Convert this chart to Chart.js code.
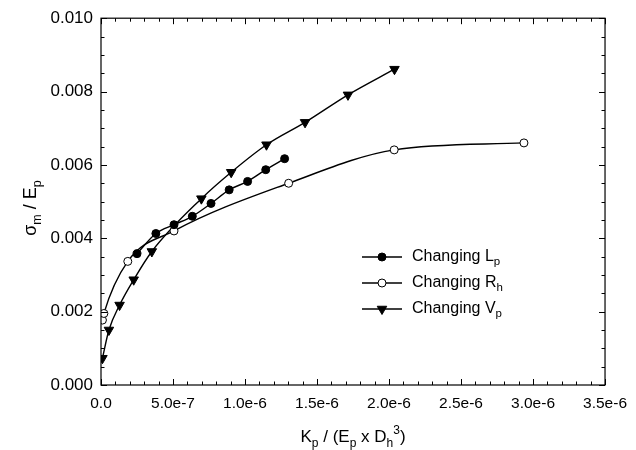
<!DOCTYPE html>
<html><head><meta charset="utf-8">
<script src="https://cdn.jsdelivr.net/npm/chart.js@4"></script>
<style>html,body{margin:0;padding:0;background:#fff}#wrap{width:636px;height:450px;position:relative}</style>
</head><body><div id="wrap"><canvas id="c"></canvas></div>
<script>
// ---- data ----
const lpX = [2.50e-7, 3.81e-7, 5.07e-7, 6.34e-7, 7.64e-7, 8.90e-7, 1.018e-6, 1.144e-6, 1.275e-6];
const lpY = [0.00358, 0.00413, 0.00437, 0.00460, 0.00495, 0.00532, 0.00555, 0.00587, 0.00617];
const rhX = [0.1e-7, 0.2e-7, 1.86e-7, 5.07e-7, 1.303e-6, 2.036e-6, 2.937e-6];
const rhY = [0.00177, 0.00195, 0.00337, 0.00420, 0.00550, 0.00641, 0.00660];
const vpX = [0.1e-7, 0.55e-7, 1.29e-7, 2.27e-7, 3.53e-7, 6.97e-7, 9.04e-7, 1.149e-6, 1.417e-6, 1.715e-6, 2.038e-6];
const vpY = [0.00073, 0.00150, 0.00218, 0.00287, 0.00364, 0.00508, 0.00580, 0.00655, 0.00716, 0.00791, 0.00861];
const seriesNames = ['Changing L', 'Changing R', 'Changing V'];
const seriesSubs = ['p', 'h', 'p'];
const xTickVals = [0, 5e-7, 1e-6, 1.5e-6, 2e-6, 2.5e-6, 3e-6, 3.5e-6];
const xTickLabels = ['0.0', '5.0e-7', '1.0e-6', '1.5e-6', '2.0e-6', '2.5e-6', '3.0e-6', '3.5e-6'];
const yTickVals = [0, 0.002, 0.004, 0.006, 0.008, 0.010];
const yTickLabels = ['0.000', '0.002', '0.004', '0.006', '0.008', '0.010'];

const FONT = "'Liberation Sans', Arial, Helvetica, sans-serif";
function pts(xs, ys) { return xs.map((x, i) => ({ x: x, y: ys[i] })); }
const base = { showLine: true, borderColor: '#000', borderWidth: 1.4, cubicInterpolationMode: 'monotone',
  pointBorderColor: '#000', pointBorderWidth: 1, fill: false };
const markers = [
  { pointStyle: 'circle', pointRadius: 4, pointBackgroundColor: '#000', pointRotation: 0 },
  { pointStyle: 'circle', pointRadius: 4, pointBackgroundColor: '#fff', pointRotation: 0 },
  { pointStyle: 'triangle', pointRadius: 5.5, pointBackgroundColor: '#000', pointRotation: 180 }
];

function drawMarker(ctx, m, x, y) {
  ctx.save();
  ctx.lineWidth = 1; ctx.strokeStyle = '#000'; ctx.fillStyle = m.pointBackgroundColor;
  ctx.beginPath();
  if (m.pointStyle === 'circle') {
    ctx.arc(x, y, m.pointRadius, 0, Math.PI * 2);
  } else {
    const r = m.pointRadius;
    ctx.moveTo(x, y + r);
    ctx.lineTo(x - r * Math.sin(Math.PI / 3), y - r / 2);
    ctx.lineTo(x + r * Math.sin(Math.PI / 3), y - r / 2);
    ctx.closePath();
  }
  ctx.fill(); ctx.stroke();
  ctx.restore();
}

function partsWidth(ctx, parts, size, small) {
  let w = 0;
  parts.forEach(p => { ctx.font = (p[1] === 'n' ? size : small) + 'px ' + FONT; w += ctx.measureText(p[0]).width; });
  return w;
}
function drawParts(ctx, parts, x, y, size, small) {
  parts.forEach(p => {
    ctx.font = (p[1] === 'n' ? size : small) + 'px ' + FONT;
    let dy = 0;
    if (p[1] === 'sub') dy = size * 0.28;
    if (p[1] === 'sup') dy = -size * 0.45;
    ctx.fillText(p[0], x, y + dy);
    x += ctx.measureText(p[0]).width;
  });
}

const decor = {
  id: 'decor',
  afterDraw(chart) {
    const ctx = chart.ctx, a = chart.chartArea;
    const xs = chart.scales.x, ys = chart.scales.y;
    ctx.save();
    ctx.strokeStyle = '#000'; ctx.lineWidth = 1.2;
    ctx.strokeRect(a.left, a.top, a.right - a.left, a.bottom - a.top);
    ctx.lineWidth = 1;
    ctx.beginPath();
    for (let i = 0; i <= 35; i++) {
      const v = i * 1e-7, px = Math.round(xs.getPixelForValue(v)) + 0.5;
      const L = (i % 5 === 0) ? 6 : 3.5;
      ctx.moveTo(px, a.bottom); ctx.lineTo(px, a.bottom - L);
      ctx.moveTo(px, a.top); ctx.lineTo(px, a.top + L);
    }
    for (let i = 0; i <= 20; i++) {
      const v = i * 0.0005, py = Math.round(ys.getPixelForValue(v)) + 0.5;
      const L = (i % 4 === 0) ? 6 : 3.5;
      ctx.moveTo(a.left, py); ctx.lineTo(a.left + L, py);
      ctx.moveTo(a.right, py); ctx.lineTo(a.right - L, py);
    }
    ctx.stroke();

    // legend
    const legY = [257, 283, 309];
    ctx.fillStyle = '#000'; ctx.textBaseline = 'middle'; ctx.textAlign = 'left';
    for (let i = 0; i < 3; i++) {
      ctx.lineWidth = 1.4;
      ctx.beginPath(); ctx.moveTo(362, legY[i]); ctx.lineTo(402, legY[i]); ctx.stroke();
      drawMarker(ctx, markers[i], 382, legY[i]);
      ctx.fillStyle = '#000';
      drawParts(ctx, [[seriesNames[i], 'n'], [seriesSubs[i], 'sub']], 412, legY[i], 16, 11.5);
    }

    // x title
    ctx.textBaseline = 'alphabetic';
    const xt = [['K', 'n'], ['p', 'sub'], [' / (E', 'n'], ['p', 'sub'], [' x D', 'n'], ['h', 'sub'], ['3', 'sup'], [')', 'n']];
    const xw = partsWidth(ctx, xt, 17, 12);
    drawParts(ctx, xt, (a.left + a.right) / 2 - xw / 2, 442, 17, 12);

    // y title
    const yt = [['\u03c3', 'n'], ['m', 'sub'], [' / E', 'n'], ['p', 'sub']];
    const yw = partsWidth(ctx, yt, 18, 12.5);
    ctx.translate(36, 208);
    ctx.rotate(-Math.PI / 2);
    drawParts(ctx, yt, -yw / 2, 0, 18, 12.5);
    ctx.restore();
  }
};

new Chart(document.getElementById('c'), {
  type: 'scatter',
  data: {
    datasets: [
      Object.assign({}, base, markers[0], { label: seriesNames[0], data: pts(lpX, lpY) }),
      Object.assign({}, base, markers[1], { label: seriesNames[1], data: pts(rhX, rhY) }),
      Object.assign({}, base, markers[2], { label: seriesNames[2], data: pts(vpX, vpY) })
    ]
  },
  options: {
    responsive: true, maintainAspectRatio: false, animation: false,
    layout: { padding: { left: 0, top: 17, right: 26, bottom: 0 } },
    plugins: { legend: { display: false }, tooltip: { enabled: false } },
    scales: {
      x: {
        type: 'linear', min: 0, max: 3.5e-6,
        afterBuildTicks: s => { s.ticks = xTickVals.map(v => ({ value: v })); },
        afterFit: s => { s.height = 65; },
        ticks: { callback: (v, i) => xTickLabels[i], font: { family: FONT, size: 15.5 }, color: '#000', padding: 9, maxRotation: 0, autoSkip: false },
        grid: { display: false, drawTicks: false }, border: { display: false }
      },
      y: {
        type: 'linear', min: 0, max: 0.010,
        afterBuildTicks: s => { s.ticks = yTickVals.map(v => ({ value: v })); },
        afterFit: s => { s.width = 101; },
        ticks: { callback: (v, i) => yTickLabels[i], font: { family: FONT, size: 17 }, color: '#000', padding: 8, autoSkip: false },
        grid: { display: false, drawTicks: false }, border: { display: false }
      }
    }
  },
  plugins: [decor]
});
</script>
</body></html>
